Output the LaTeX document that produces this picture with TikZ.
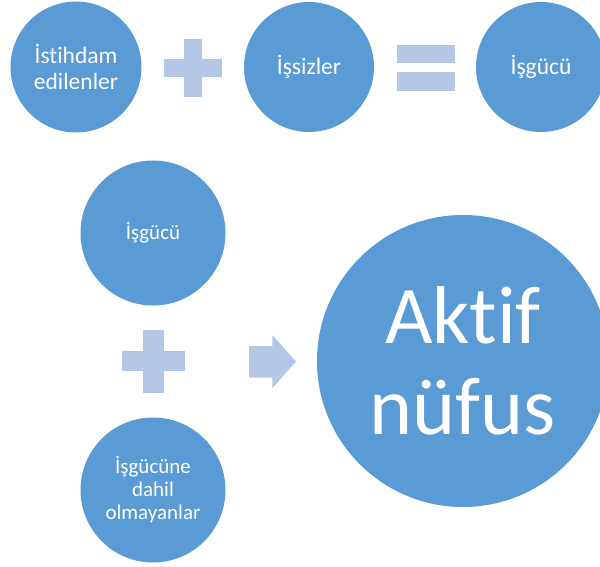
\documentclass[tikz,border=0pt]{standalone}
\usepackage{fontspec}
\setmainfont{Carlito}[Ligatures={NoCommon}]
\usepackage{xcolor}
\definecolor{bubbleblue}{RGB}{91,155,213}
\definecolor{signblue}{RGB}{180,199,231}
\tikzset{
  bubble/.style={circle, fill=bubbleblue, text=white, align=center, inner sep=0pt, minimum size=#1},
  sign/.style={fill=signblue},
  toptext/.style={font=\fontsize{23.5}{26.7}\selectfont},
  lowtext/.style={font=\fontsize{21}{23}\selectfont},
}

\begin{document}
\begin{tikzpicture}[yscale=-1, x=1pt, y=1pt] % flip y axis, one unit is one pixel
      \useasboundingbox (0,0) rectangle (600,567);
      \clip (0,0) rectangle (600,567);
      % top row
      \node[bubble=131pt, toptext] (edilen) at (76,67) {İstihdam\\edilenler};
      \node[bubble=130pt, toptext] (issiz) at (309,67) {İşsizler};
      \node[bubble=130pt, toptext] (isgucu) at (541,67) {İşgücü};
      \fill[sign] (397,45) rectangle (455,63);
      \fill[sign] (397,72) rectangle (455,91);
      % lower part
      \node[bubble=145pt, lowtext] (gucu) at (153,233) {İşgücü};
      \node[bubble=145pt, lowtext] (dahil) at (153,490) {İşgücüne\\dahil\\olmayanlar};
      \node[bubble=292pt, font=\fontsize{82}{91}\selectfont] (aktif) at (463,361) {Aktif\\nüfus};
      \foreach \cx/\cy/\a/\t in {193/68/29/9, 153.5/361/31.5/10.3}{
          \fill[sign] (\cx-\t,\cy-\a) rectangle (\cx+\t,\cy+\a);
          \fill[sign] (\cx-\a,\cy-\t) rectangle (\cx+\a,\cy+\t);
        }
      \fill[sign] (249,346) -- (272.3,346) -- (272.3,335) -- (296,361.5)
          -- (272.3,388.3) -- (272.3,377.7) -- (249,377.7) -- cycle;
    \end{tikzpicture}
\end{document}
